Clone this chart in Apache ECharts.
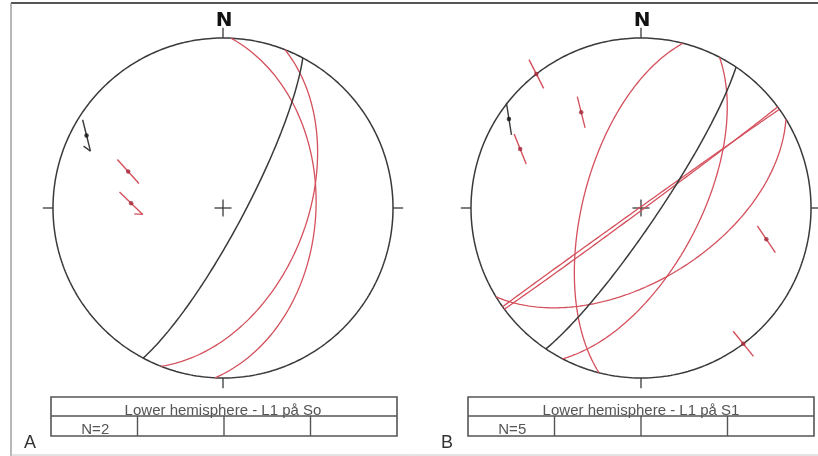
<!DOCTYPE html>
<html>
<head>
<meta charset="utf-8">
<script src="https://cdn.jsdelivr.net/npm/echarts@6/dist/echarts.min.js"></script>
<style>
  html, body { margin: 0; padding: 0; background: #ffffff; }
  #chart { width: 818px; height: 456px; }
</style>
</head>
<body>
<div id="chart"></div>
<script>
// ---- Stereonet data (lower hemisphere, equal-area) ----
const netLetters   = ['A', 'B'];
const tableTitles  = ['Lower hemisphere - L1 på So', 'Lower hemisphere - L1 på S1'];
const countLabels  = ['N=2', 'N=5'];

// Net A — reference foliation (black) and measured planes (red): dip direction / dip
const refPlaneA    = [118, 80];
const planeDipDirA = [92.7, 111.4];
const planeDipA    = [44.5, 49.3];
// Net A — lineations: trend / plunge / movement azimuth / half-arrow flag
const refLinA      = [298, 10, 166, 1];
const linTrendA    = [291, 273];
const linPlungeA   = [40, 45];
const linSenseA    = [138, 134];
const linHookA     = [0, 1];

// Net B
const refPlaneB    = [124, 82];
const planeDipDirB = [143.5, 324.5, 284.3, 117.5, 148.5];
const planeDipB    = [89, 89.5, 62, 62, 55];
const refLinB      = [304, 7, 171, 0];
const linTrendB    = [322, 328, 296, 104, 143];
const linPlungeB   = [0, 34, 22, 25, 0];
const linSenseB    = [153, 166, 158, 146, 141];
const linHookB     = [0, 0, 0, 0, 0];

// ---- Projection helpers ----
const D = Math.PI / 180;
function project(trend, plunge) {
  const r = Math.SQRT2 * Math.sin((90 - plunge) / 2 * D);
  return [r * Math.sin(trend * D), r * Math.cos(trend * D)];
}
function greatCircle(dipDir, dip) {
  const strike = dipDir - 90;
  const s = [Math.sin(strike * D), Math.cos(strike * D), 0];
  const d = [Math.sin(dipDir * D) * Math.cos(dip * D),
             Math.cos(dipDir * D) * Math.cos(dip * D),
             Math.sin(dip * D)];
  const pts = [];
  for (let t = 0; t <= 180; t += 1) {
    const c = Math.cos(t * D), n = Math.sin(t * D);
    const v = [s[0] * c + d[0] * n, s[1] * c + d[1] * n, Math.max(0, s[2] * c + d[2] * n)];
    const pl = Math.asin(Math.min(1, v[2])) / D;
    const tr = Math.atan2(v[0], v[1]) / D;
    pts.push(project(tr, pl));
  }
  return pts;
}

const BLACK = '#3a3a3a';
const RED = '#d4505c';
const RED_DOT = '#a3283a';

function lineSeries(idx, data, color, width) {
  return {
    type: 'line', xAxisIndex: idx, yAxisIndex: idx, data: data,
    showSymbol: false, silent: true, animation: false, clip: false,
    lineStyle: { color: color, width: width }, z: 2
  };
}

function lineation(idx, trend, plunge, sense, hook, color, dotColor) {
  const p = project(trend, plunge);
  const L = 0.095;
  const u = [Math.sin(sense * D), Math.cos(sense * D)];
  const a = [p[0] - L * u[0], p[1] - L * u[1]];
  const b = [p[0] + L * u[0], p[1] + L * u[1]];
  const out = [lineSeries(idx, [a, b], color, 1.4)];
  if (hook) {
    const h = (sense + 140) * D;
    out.push(lineSeries(idx, [b, [b[0] + 0.05 * Math.sin(h), b[1] + 0.05 * Math.cos(h)]], color, 1.3));
  }
  out.push({
    type: 'scatter', xAxisIndex: idx, yAxisIndex: idx, data: [p], clip: false,
    symbolSize: 4.5, itemStyle: { color: dotColor }, silent: true, animation: false, z: 4
  });
  return out;
}

function frameSeries(idx) {
  const circle = [];
  for (let a = 0; a <= 360; a += 1) circle.push([Math.sin(a * D), Math.cos(a * D)]);
  const k = 0.06, c = 0.05;
  return [
    lineSeries(idx, circle, BLACK, 1.5),
    lineSeries(idx, [[0, 1], [0, 1 + k]], BLACK, 1.3),
    lineSeries(idx, [[0, -1], [0, -1 - k]], BLACK, 1.3),
    lineSeries(idx, [[1, 0], [1 + k, 0]], BLACK, 1.3),
    lineSeries(idx, [[-1, 0], [-1 - k, 0]], BLACK, 1.3),
    lineSeries(idx, [[-c, 0], [c, 0]], BLACK, 1.3),
    lineSeries(idx, [[0, -c], [0, c]], BLACK, 1.3)
  ];
}

function netSeries(idx, refPlane, dipDirs, dips, refLin, trends, plunges, senses, hooks) {
  let out = frameSeries(idx);
  dipDirs.forEach((dd, i) => out.push(lineSeries(idx, greatCircle(dd, dips[i]), RED, 1.3)));
  out.push(lineSeries(idx, greatCircle(refPlane[0], refPlane[1]), BLACK, 1.5));
  out = out.concat(lineation(idx, refLin[0], refLin[1], refLin[2], refLin[3], BLACK, '#111'));
  trends.forEach((t, i) => {
    out = out.concat(lineation(idx, t, plunges[i], senses[i], hooks[i], RED, RED_DOT));
  });
  return out;
}

// Net centres and radius in page pixels; axis extents in units of the net radius
const centres = [[223, 208], [641, 208]];
const R = 170;
const xExtents = [[-1.2, 1.2], [-1.2, 177 / 170]];
const yExtent = [-1.2, 1.2];

const grids = centres.map((c, i) => ({
  left: c[0] + R * xExtents[i][0], top: c[1] - R * yExtent[1],
  width: R * (xExtents[i][1] - xExtents[i][0]), height: R * (yExtent[1] - yExtent[0]), show: false
}));
const xAxes = xExtents.map((e, i) => ({ gridIndex: i, type: 'value', min: e[0], max: e[1], show: false }));
const yAxes = xExtents.map((e, i) => ({ gridIndex: i, type: 'value', min: yExtent[0], max: yExtent[1], show: false }));

// Decorations: outer frame, direction letters, hemisphere tables
const textFont = '"Liberation Sans", Arial, sans-serif';
const graphics = [
  { type: 'line', shape: { x1: 11, y1: 3, x2: 818, y2: 3 }, style: { stroke: '#555', lineWidth: 2 } },
  { type: 'line', shape: { x1: 11, y1: 3, x2: 11, y2: 456 }, style: { stroke: '#888', lineWidth: 1.2 } },
  { type: 'line', shape: { x1: 11, y1: 455, x2: 818, y2: 455 }, style: { stroke: '#c8c8c8', lineWidth: 1 } }
];
const tableLeft = [51, 468], tableRight = [397, 814];
centres.forEach((c, i) => {
  graphics.push({
    type: 'text', x: c[0] + 1, y: 21,
    style: { text: 'N', font: 'bold 20px "DejaVu Sans", sans-serif', fill: '#111',
             textAlign: 'center', textVerticalAlign: 'middle' }
  });
  const l = tableLeft[i], r = tableRight[i];
  const top = 397, mid = 416, bot = 436;
  graphics.push({ type: 'rect', shape: { x: l, y: top, width: r - l, height: bot - top },
                  style: { fill: 'none', stroke: '#555', lineWidth: 1.6 } });
  graphics.push({ type: 'line', shape: { x1: l, y1: mid, x2: r, y2: mid }, style: { stroke: '#555', lineWidth: 1.4 } });
  const w = (r - l) / 4;
  for (let j = 1; j < 4; j++) {
    graphics.push({ type: 'line', shape: { x1: l + w * j, y1: mid, x2: l + w * j, y2: bot },
                    style: { stroke: '#555', lineWidth: 1.4 } });
  }
  graphics.push({
    type: 'text', x: c[0], y: 411, z: 10,
    style: { text: tableTitles[i], font: '15px ' + textFont, fill: '#555',
             textAlign: 'center', textVerticalAlign: 'middle' }
  });
  graphics.push({
    type: 'text', x: l + w / 2 + 1, y: 430, z: 10,
    style: { text: countLabels[i], font: '15px ' + textFont, fill: '#555',
             textAlign: 'center', textVerticalAlign: 'middle' }
  });
  graphics.push({
    type: 'text', x: [30, 447][i], y: 443,
    style: { text: netLetters[i], font: '18px ' + textFont, fill: '#333',
             textAlign: 'center', textVerticalAlign: 'middle' }
  });
});

const series = []
  .concat(netSeries(0, refPlaneA, planeDipDirA, planeDipA, refLinA, linTrendA, linPlungeA, linSenseA, linHookA))
  .concat(netSeries(1, refPlaneB, planeDipDirB, planeDipB, refLinB, linTrendB, linPlungeB, linSenseB, linHookB));

const chart = echarts.init(document.getElementById('chart'), null, { renderer: 'canvas' });
chart.setOption({
  backgroundColor: '#ffffff',
  animation: false,
  grid: grids,
  xAxis: xAxes,
  yAxis: yAxes,
  series: series,
  graphic: graphics
});
</script>
</body>
</html>
